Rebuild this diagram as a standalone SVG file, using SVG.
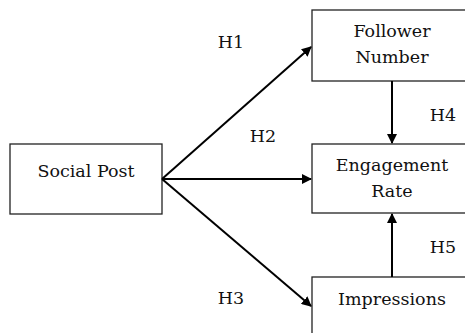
<svg xmlns="http://www.w3.org/2000/svg" width="465" height="333" viewBox="0 0 465 333">
<style>
.box{fill:#fff;stroke:#222;stroke-width:1.3}
.t{font-family:"DejaVu Serif",serif;font-size:17.5px;fill:#111;text-anchor:middle}
.e{stroke:#000;stroke-width:2;fill:none}
</style>
<defs>
<marker id="ah" markerWidth="10" markerHeight="10" refX="9" refY="5" orient="auto" markerUnits="userSpaceOnUse"><path d="M0,0 L10,5 L0,10 Z" fill="#000"/></marker>
</defs>
<rect width="465" height="333" fill="#fff"/>
<g id="social-post"><rect class="box" x="10" y="144" width="152" height="70"/><text class="t" x="86" y="177">Social Post</text></g>
<g id="follower-number"><rect class="box" x="312" y="10" width="160" height="71"/><text class="t" x="392" y="37">Follower</text><text class="t" x="392" y="63">Number</text></g>
<g id="engagement-rate"><rect class="box" x="312" y="144" width="160" height="69"/><text class="t" x="392" y="171">Engagement</text><text class="t" x="392" y="197">Rate</text></g>
<g id="impressions"><rect class="box" x="312" y="277" width="160" height="70"/><text class="t" x="392" y="305">Impressions</text></g>
<g id="connectors">
<line class="e" x1="162" y1="179" x2="311" y2="47" marker-end="url(#ah)"/>
<line class="e" x1="162" y1="179" x2="311" y2="179" marker-end="url(#ah)"/>
<line class="e" x1="162" y1="179" x2="311" y2="306" marker-end="url(#ah)"/>
<line class="e" x1="392" y1="81" x2="392" y2="143" marker-end="url(#ah)"/>
<line class="e" x1="392" y1="277" x2="392" y2="214" marker-end="url(#ah)"/>
<text class="t" x="231" y="48">H1</text>
<text class="t" x="263" y="142">H2</text>
<text class="t" x="231" y="304">H3</text>
<text class="t" x="443" y="121">H4</text>
<text class="t" x="443" y="253">H5</text>
</g>
</svg>
